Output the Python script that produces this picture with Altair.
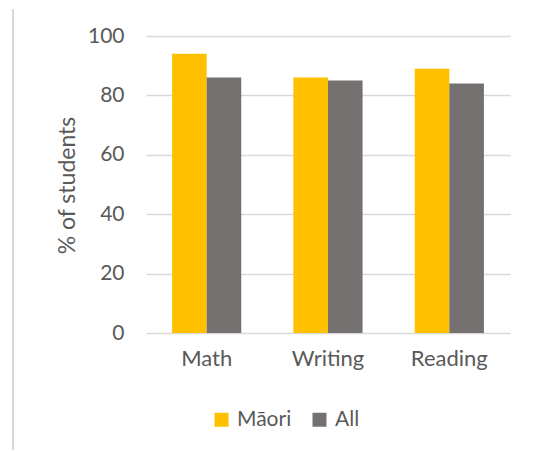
import altair as alt
import pandas as pd

subjects = ["Math", "Writing", "Reading"]
groups = ["Māori", "All"]
maori_pct = [94, 86, 89]
all_pct = [86, 85, 84]
y_ticks = [0, 20, 40, 60, 80, 100]
colors = ["#FFC000", "#767171"]

rows = []
for s, m, a in zip(subjects, maori_pct, all_pct):
    rows.append({"subject": s, "group": groups[0], "pct": m})
    rows.append({"subject": s, "group": groups[1], "pct": a})
df = pd.DataFrame(rows)

FONT = "Lato"
GREY_TXT = "#595959"

bars = alt.Chart(df).mark_bar().encode(
    x=alt.X("subject:N", sort=subjects,
            scale=alt.Scale(paddingInner=0.43, paddingOuter=0.215),
            axis=alt.Axis(title=None, labelAngle=0, ticks=False, domain=False,
                          labelFont=FONT, labelFontSize=22, labelColor=GREY_TXT,
                          labelPadding=15)),
    xOffset=alt.XOffset("group:N", sort=groups),
    y=alt.Y("pct:Q", scale=alt.Scale(domain=[0, 100]),
            axis=alt.Axis(values=y_ticks, title="% of students", ticks=False,
                          domain=False, grid=True, gridColor="#d9d9d9",
                          gridWidth=1.3,
                          labelFont=FONT, labelFontSize=21, labelColor=GREY_TXT,
                          labelPadding=22,
                          titleFont=FONT, titleFontSize=23, titleColor=GREY_TXT,
                          titleFontWeight="normal",
                          titleX=-72, titleY=149, titleBaseline="alphabetic")),
    color=alt.Color("group:N", sort=groups,
                    scale=alt.Scale(domain=groups, range=colors),
                    legend=alt.Legend(title=None, orient="none", direction="horizontal",
                                      legendX=65, legendY=373,
                                      symbolType="square", symbolSize=196,
                                      symbolStrokeWidth=0, symbolOpacity=1,
                                      labelFont=FONT, labelFontSize=21,
                                      labelColor=GREY_TXT, labelOffset=5,
                                      columnPadding=17)),
)

# thin frame edge on the left of the chart
edge = alt.Chart(pd.DataFrame({"k": [0]})).mark_rule(
    color="#d9d9d9", strokeWidth=2
).encode(x=alt.value(-133), y=alt.value(-27), y2=alt.value(414))

chart = alt.layer(edge, bars).properties(
    width=364, height=297,
    autosize=alt.AutoSizeParams(type="none"),
    padding={"left": 146, "top": 36, "right": 25, "bottom": 118},
).configure_view(stroke=None)

chart.save("out.html", embed_options={"renderer": "svg", "actions": False})
